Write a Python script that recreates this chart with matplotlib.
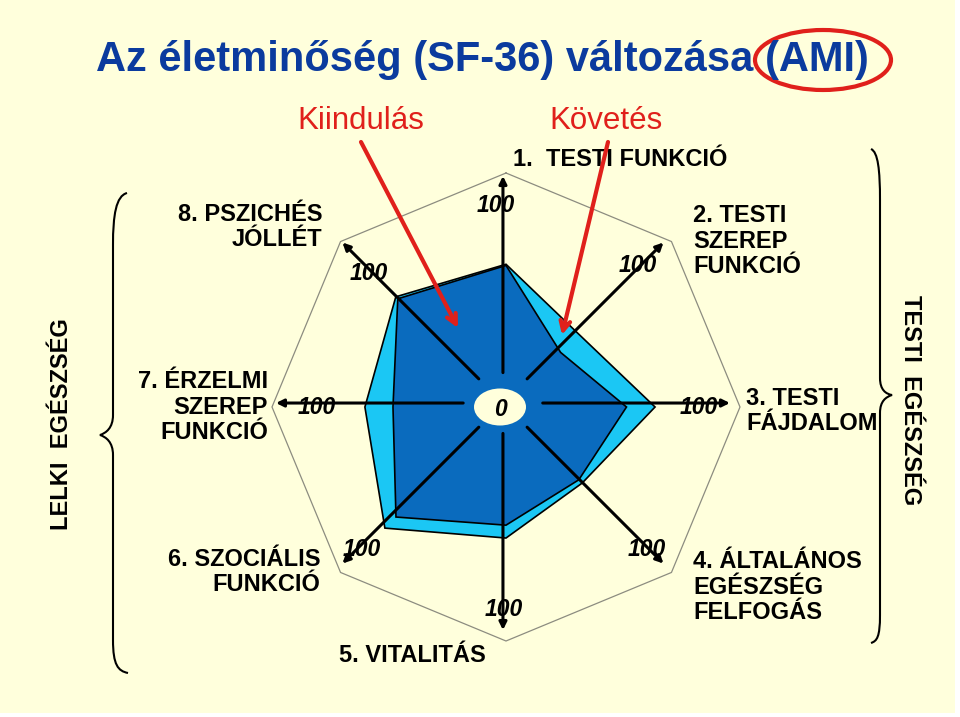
import numpy as np
import matplotlib
matplotlib.use('Agg')
import matplotlib.pyplot as plt
from matplotlib.patches import Ellipse, Rectangle, PathPatch
from matplotlib.path import Path

# SF-36 dimenziok, 1. felul, oramutato jarasaval
dimenziok = ['1.  TESTI FUNKCIÓ', '2. TESTI\nSZEREP\nFUNKCIÓ', '3. TESTI\nFÁJDALOM',
             '4. ÁLTALÁNOS\nEGÉSZSÉG\nFELFOGÁS', '5. VITALITÁS', '6. SZOCIÁLIS\nFUNKCIÓ',
             '7. ÉRZELMI\nSZEREP\nFUNKCIÓ', '8. PSZICHÉS\nJÓLLÉT']
kiindulas = [60.5, 33, 51.5, 44, 50.5, 66.5, 48.3, 65.4]
kovetes = [61, 44, 63.7, 46, 56, 73.2, 60.3, 66.6]
skala_max = 100
skala_felirat = '100'

cim = 'Az életminőség (SF-36) változása (AMI)'
csoport_bal = 'LELKI  EGÉSZSÉG'
csoport_jobb = 'TESTI  EGÉSZSÉG'

bg = '#FFFFDC'
sotet = '#0A6BBE'
vilagos = '#1BC7F4'
piros = '#E0201B'
kek = '#0B3B9E'

plt.rcParams['font.family'] = ['Liberation Sans', 'DejaVu Sans']

fig = plt.figure(figsize=(9.6, 7.17), dpi=100, facecolor='white')

# hatter (pixel koordinatak)
ax = fig.add_axes([0, 0, 1, 1])
ax.set_xlim(0, 960)
ax.set_ylim(717, 0)
ax.axis('off')
ax.add_patch(Rectangle((0, 0), 955, 713, facecolor=bg, edgecolor='none'))

# radar resz: kozeppont (506, 407) px, 100 = 234 px
cx, cy, R = 506, 407, 234
W = 2 * 1.3 * R
axr = fig.add_axes([(cx - W / 2) / 960, (717 - cy - W / 2) / 717, W / 960, W / 717])
axr.set_xlim(-130, 130)
axr.set_ylim(-130, 130)
axr.axis('off')
axr.patch.set_alpha(0)

n = len(dimenziok)
theta = np.arange(n) * 2 * np.pi / n
sx, cyy = np.sin(theta), np.cos(theta)

okt = np.append(np.full(n, skala_max), skala_max)
axr.plot(okt * np.append(sx, sx[0]), okt * np.append(cyy, cyy[0]), color='#8C8C80', lw=0.9, zorder=1)

v2 = np.array(kovetes)
axr.fill(v2 * sx, v2 * cyy, facecolor=vilagos, edgecolor='black', lw=1.2, zorder=2)
v1 = np.array(kiindulas)
axr.fill(v1 * sx, v1 * cyy, facecolor=sotet, edgecolor='black', lw=1.2, zorder=3)

# tengelyek nyillal
ox, oy = -1.3, 1.7
for s, c in zip(sx, cyy):
    r0 = 1 / np.sqrt((s / 17) ** 2 + (c / 13) ** 2)
    axr.annotate('', xy=(ox + 97 * s, oy + 97 * c), xytext=(ox + r0 * s, oy + r0 * c),
                 arrowprops=dict(arrowstyle='-|>', lw=2.2, color='black', mutation_scale=11,
                                 shrinkA=0, shrinkB=0), zorder=4)

# felso reteg: feliratok
axt = fig.add_axes([0, 0, 1, 1])
axt.set_xlim(0, 960)
axt.set_ylim(717, 0)
axt.axis('off')
axt.patch.set_alpha(0)

axt.add_patch(Ellipse((500, 407), 52, 37, facecolor=bg, edgecolor='none'))
axt.text(500, 409, '0', fontsize=16.5, fontweight='bold', style='italic', ha='center', va='center')

szam_pos = [(496, 206), (638, 265), (699, 408), (647, 550), (504, 610), (362, 550), (317, 408), (369, 273)]
for (x, y) in szam_pos:
    axt.text(x, y, skala_felirat, fontsize=16.5, fontweight='bold', style='italic', ha='center', va='center')

cimke_pos = [(513, 160, 'left'), (693, 241, 'left'), (746, 411, 'left'), (693, 587, 'left'),
             (339, 655, 'left'), (320, 572, 'right'), (268, 407, 'right'), (322, 227, 'right')]
for lab, (x, y, ha) in zip(dimenziok, cimke_pos):
    axt.text(x, y, lab, fontsize=17, fontweight='bold', ha=ha, va='center', multialignment=ha,
             linespacing=1.13)

axt.text(482, 60, cim, fontsize=30, fontweight='bold', color=kek, ha='center', va='center')
axt.add_patch(Ellipse((823, 60), 136, 60, facecolor='none', edgecolor=piros, lw=3))

axt.text(361, 121, 'Kiindulás', fontsize=22.5, color=piros, ha='center', va='center')
axt.text(606, 121, 'Követés', fontsize=22.5, color=piros, ha='center', va='center')
axt.annotate('', xy=(458, 328), xytext=(361, 142),
             arrowprops=dict(arrowstyle='->,head_length=0.7,head_width=0.35', lw=3, color=piros,
                             shrinkA=0, shrinkB=0))
axt.annotate('', xy=(562, 335), xytext=(608, 142),
             arrowprops=dict(arrowstyle='->,head_length=0.7,head_width=0.35', lw=3, color=piros,
                             shrinkA=0, shrinkB=0))

# kapcsos zarojelek
bal = [(127, 193), (116, 196), (113, 215), (113, 245), (113, 415), (113, 428), (106, 433), (100, 435),
       (106, 437), (113, 442), (113, 455), (113, 640), (113, 665), (118, 671), (128, 673)]
kodok = [Path.MOVETO, Path.CURVE4, Path.CURVE4, Path.CURVE4, Path.LINETO, Path.CURVE4, Path.CURVE4,
         Path.CURVE4, Path.CURVE4, Path.CURVE4, Path.CURVE4, Path.LINETO, Path.CURVE4, Path.CURVE4,
         Path.CURVE4]
axt.add_patch(PathPatch(Path(bal, kodok), facecolor='none', edgecolor='black', lw=1.5))
jobb = [(871, 149), (878, 152), (880, 170), (880, 200), (880, 378), (880, 390), (886, 394), (892, 395),
        (886, 397), (880, 401), (880, 413), (880, 615), (880, 637), (877, 641), (871, 643)]
axt.add_patch(PathPatch(Path(jobb, kodok), facecolor='none', edgecolor='black', lw=1.5))

axt.text(62, 424, csoport_bal, fontsize=17, fontweight='bold', rotation=90, ha='center', va='center')
axt.text(910, 400, csoport_jobb, fontsize=17, fontweight='bold', rotation=-90, ha='center', va='center')

fig.savefig('out.png', dpi=100, facecolor='white')
